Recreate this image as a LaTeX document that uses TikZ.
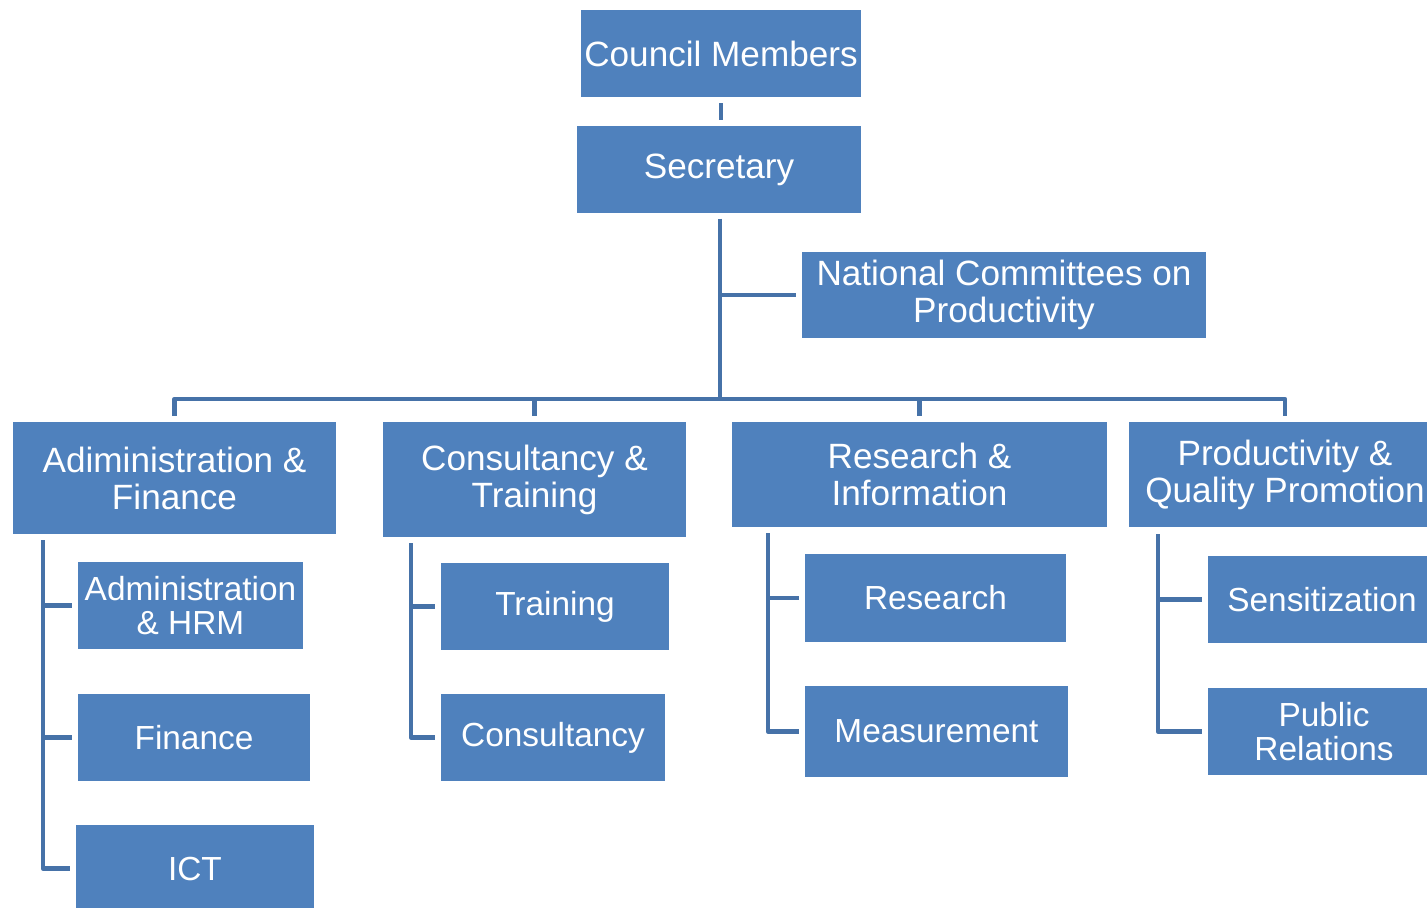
\documentclass[tikz,border=0pt]{standalone}
\usepackage{fontspec}
\setmainfont{Liberation Sans}
\definecolor{boxblue}{RGB}{79,129,189}
\definecolor{lineblue}{RGB}{70,114,168}
\begin{document}
\begin{tikzpicture}[x=0.02cm, y=-0.02cm,
    unit/.style={fill=boxblue, text=white, align=center, inner sep=0pt,
        font=\fontsize{20}{21}\selectfont},
    subunit/.style={unit, font=\fontsize{19}{19.4}\selectfont},
    link/.style={draw=lineblue, line width=2.7pt, line join=round},
    gap/.style={shorten >=3.2pt}]

    % frame
    \useasboundingbox (0,0) rectangle (1427,907);
    \clip (0,0) rectangle (1427,907);

    % top
    \node[unit, minimum width=5.6cm, minimum height=1.74cm] (council) at (721,53.5) {Council Members};
    \node[unit, minimum width=5.68cm, minimum height=1.74cm] (secretary) at (719,169.5) {Secretary};
    \node[unit, minimum width=8.08cm, minimum height=1.72cm] (natcom) at (1004,295) {National Committees on\\Productivity};

    % departments
    \node[unit, minimum width=6.46cm, minimum height=2.24cm] (adfin) at (174.5,478) {Adiministration \&\\Finance};
    \node[unit, minimum width=6.06cm, minimum height=2.3cm] (contrain) at (534.5,479.5) {Consultancy \&\\Training};
    \node[unit, minimum width=7.5cm, minimum height=2.1cm] (resinfo) at (919.5,474.5) {Research \&\\Information};
    \node[unit, minimum width=6.24cm, minimum height=2.1cm] (prodqual) at (1285,474.5) {Productivity \&\\Quality Promotion};

    % sections
    \node[subunit, minimum width=4.5cm, minimum height=1.74cm] (adhrm) at (190.5,605.5) {Administration\\\& HRM};
    \node[subunit, minimum width=4.64cm, minimum height=1.74cm] (fin) at (194,737.5) {Finance};
    \node[subunit, minimum width=4.78cm, minimum height=1.74cm] (ict) at (195,868.5) {ICT};
    \node[subunit, minimum width=4.56cm, minimum height=1.74cm] (training) at (555,606.5) {Training};
    \node[subunit, minimum width=4.48cm, minimum height=1.74cm] (consult) at (553,737.5) {Consultancy};
    \node[subunit, minimum width=5.22cm, minimum height=1.76cm] (research) at (935.5,598) {Research};
    \node[subunit, minimum width=5.26cm, minimum height=1.82cm] (measure) at (936.5,731.5) {Measurement};
    \node[subunit, minimum width=4.56cm, minimum height=1.74cm] (sensit) at (1322,599.5) {Sensitization};
    \node[subunit, minimum width=4.64cm, minimum height=1.74cm] (pubrel) at (1324,731.5) {Public\\Relations};

    % trunk
    \coordinate (hub) at (720,399);
    \draw[link, shorten <=3.4pt, shorten >=3pt] (council.south) -- (council.south |- secretary.north);
    \draw[link, shorten <=3pt] (secretary.south -| hub) -- (hub);
    \draw[link, gap] (hub |- natcom.west) -- (natcom.west);

    % bus
    \draw[link, shorten <=3.4pt, shorten >=3.4pt] (adfin.north) -- (adfin.north |- hub) -- (prodqual.north |- hub) -- (prodqual.north);
    \draw[link, shorten >=3.4pt] (contrain.north |- hub) -- (contrain.north);
    \draw[link, shorten >=3.4pt] (resinfo.north |- hub) -- (resinfo.north);

    % spines
    \coordinate (adspine) at (43,540);
    \coordinate (ctspine) at (411,543);
    \coordinate (rispine) at (768,533);
    \coordinate (pqspine) at (1158,534);

    \draw[link, gap] (adspine) |- (ict.west);
    \draw[link, gap] (adspine |- adhrm.west) -- (adhrm.west);
    \draw[link, gap] (adspine |- fin.west) -- (fin.west);

    \draw[link, gap] (ctspine) |- (consult.west);
    \draw[link, gap] (ctspine |- training.west) -- (training.west);

    \draw[link, gap] (rispine) |- (measure.west);
    \draw[link, gap] (rispine |- research.west) -- (research.west);

    \draw[link, gap] (pqspine) |- (pubrel.west);
    \draw[link, gap] (pqspine |- sensit.west) -- (sensit.west);

\end{tikzpicture}
\end{document}
